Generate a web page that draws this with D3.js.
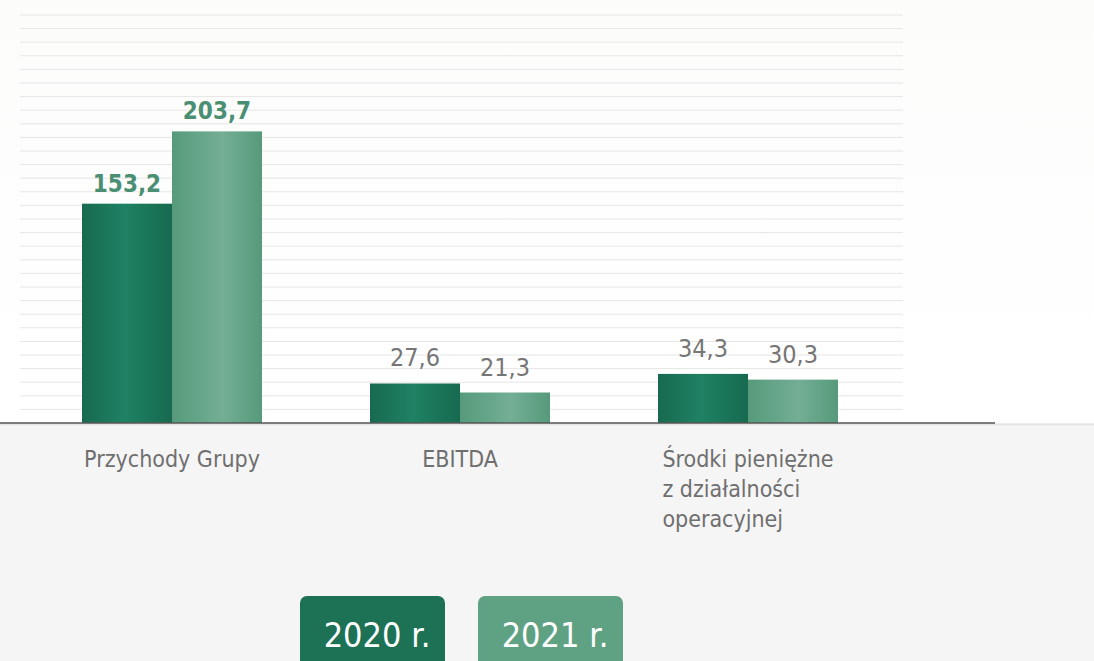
<!DOCTYPE html>
<html>
<head>
<meta charset="utf-8">
<script src="https://cdn.jsdelivr.net/npm/d3@7"></script>
<style>
  body { margin: 0; background: #f5f5f5; overflow: hidden; }
  svg { display: block; }
  .lbl { font-family: "Liberation Sans Narrow", "DejaVu Sans Condensed", "Roboto", sans-serif; }
</style>
</head>
<body>
<div id="chart"></div>
<script>
// chart values
const categories = [["Przychody Grupy"], ["EBITDA"], ["Środki pieniężne", "z działalności", "operacyjnej"]];
const catKeys = ["Przychody Grupy", "EBITDA", "Środki pieniężne"];
const years = ["2020 r.", "2021 r."];
const values2020 = [153.2, 27.6, 34.3];
const values2021 = [203.7, 21.3, 30.3];
const valueLabels2020 = ["153,2", "27,6", "34,3"];
const valueLabels2021 = ["203,7", "21,3", "30,3"];
const boldLabels = [true, false, false];

const W = 1094, H = 661;
const baseline = 423;

const svg = d3.select("#chart").append("svg")
    .attr("width", W).attr("height", H);

const defs = svg.append("defs");
function barGrad(id, edge, mid, pos) {
    const g = defs.append("linearGradient").attr("id", id)
        .attr("x1", "0%").attr("x2", "100%").attr("y1", "0%").attr("y2", "0%");
    g.append("stop").attr("offset", "0%").attr("stop-color", edge);
    g.append("stop").attr("offset", pos).attr("stop-color", mid);
    g.append("stop").attr("offset", "100%").attr("stop-color", edge);
}
barGrad("g2020", "#176a4f", "#1f8163", "47%");
barGrad("g2021", "#569a7b", "#73ae95", "56%");

const bgGrad = defs.append("linearGradient").attr("id", "bg")
    .attr("x1", "0%").attr("x2", "0%").attr("y1", "0%").attr("y2", "100%");
bgGrad.append("stop").attr("offset", "0%").attr("stop-color", "#fcfcfb");
bgGrad.append("stop").attr("offset", "100%").attr("stop-color", "#ffffff");

// upper white panel
svg.append("rect").attr("x", 0).attr("y", 0).attr("width", W).attr("height", baseline)
    .attr("fill", "url(#bg)");

// scales
const x = d3.scaleBand()
    .domain(catKeys)
    .range([28, 892])
    .paddingInner(0.375)
    .paddingOuter(0.1875);

const xSub = d3.scaleBand()
    .domain(years)
    .range([0, x.bandwidth()]);

const y = d3.scaleLinear()
    .domain([0, 285])
    .range([baseline, 15]);

// decorative grid lines
const gridScale = d3.scaleLinear().domain([0, 30]).range([baseline, 15]);
svg.append("g").selectAll("line")
    .data(d3.range(1, 31))
    .enter().append("line")
    .attr("x1", 20).attr("x2", 903)
    .attr("y1", d => gridScale(d)).attr("y2", d => gridScale(d))
    .attr("stroke", "#e6e6e6").attr("stroke-width", 1);

// bars
const rows = catKeys.map((c, i) => ({
    cat: c, i: i,
    vals: [
        { year: years[0], v: values2020[i], lbl: valueLabels2020[i], fill: "url(#g2020)" },
        { year: years[1], v: values2021[i], lbl: valueLabels2021[i], fill: "url(#g2021)" }
    ]
}));

const groups = svg.selectAll(".grp")
    .data(rows)
    .enter().append("g")
    .attr("class", "grp")
    .attr("transform", d => `translate(${x(d.cat)},0)`);

groups.selectAll("rect")
    .data(d => d.vals)
    .enter().append("rect")
    .attr("x", d => xSub(d.year))
    .attr("y", d => y(d.v))
    .attr("width", xSub.bandwidth())
    .attr("height", d => baseline - y(d.v))
    .attr("fill", d => d.fill);

// value labels
groups.each(function(row) {
    const bold = boldLabels[row.i];
    d3.select(this).selectAll("text.val")
        .data(row.vals)
        .enter().append("text")
        .attr("class", "val lbl")
        .attr("x", d => xSub(d.year) + xSub.bandwidth() / 2)
        .attr("y", d => y(d.v) - (bold ? 12 : 17))
        .attr("text-anchor", "middle")
        .attr("font-size", bold ? 24 : 25)
        .attr("font-weight", bold ? "bold" : "normal")
        .attr("fill", bold ? "#4a8f73" : "#767676")
        .text(d => d.lbl);
});

// lower grey panel and axis
svg.append("rect").attr("x", 0).attr("y", baseline).attr("width", W).attr("height", H - baseline)
    .attr("fill", "#f5f5f5");
svg.append("line").attr("x1", 0).attr("x2", W).attr("y1", baseline + 1.5).attr("y2", baseline + 1.5)
    .attr("stroke", "#e4e4e4").attr("stroke-width", 2);
svg.append("line").attr("x1", 0).attr("x2", 995).attr("y1", baseline).attr("y2", baseline)
    .attr("stroke", "#555555").attr("stroke-width", 1.5);

// category labels (left-aligned block, centred under group)
categories.forEach((lines, i) => {
    const cx = x(catKeys[i]) + x.bandwidth() / 2;
    const t = svg.append("text").attr("class", "lbl")
        .attr("font-size", 23).attr("fill", "#6f6f6f");
    lines.forEach((ln, j) => {
        t.append("tspan").attr("x", 0).attr("y", 467 + j * 30).text(ln);
    });
    const w = d3.max(t.selectAll("tspan").nodes(), n => n.getComputedTextLength());
    t.selectAll("tspan").attr("x", cx - w / 2);
});

// legend buttons
const legX = d3.scaleOrdinal().domain(years).range([300, 478]);
const legFill = d3.scaleOrdinal().domain(years).range(["#1d7256", "#5fa283"]);
const leg = svg.selectAll(".leg")
    .data(years)
    .enter().append("g")
    .attr("class", "leg")
    .attr("transform", d => `translate(${legX(d)},596)`);
leg.append("rect")
    .attr("width", 145).attr("height", 80).attr("rx", 7)
    .attr("fill", d => legFill(d));
leg.append("text").attr("class", "lbl")
    .attr("x", 77).attr("y", 51)
    .attr("text-anchor", "middle")
    .attr("font-size", 34).attr("fill", "#ffffff")
    .text(d => d);
</script>
</body>
</html>
